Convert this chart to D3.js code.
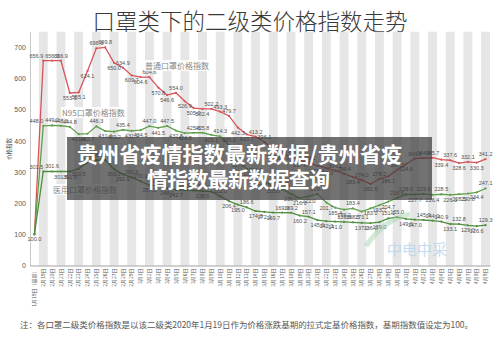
<!DOCTYPE html>
<html><head><meta charset="utf-8">
<script src="https://cdn.jsdelivr.net/npm/d3@7"></script>
<style>body{margin:0;background:#fff}svg{display:block}</style>
</head><body>
<script>
// Dates: base period, then daily observations
const dates = ["1月19日（基期）",
  "2月19日","2月20日","2月21日","2月22日","2月23日","2月24日","2月25日","2月26日","2月27日","2月28日","2月29日",
  "3月1日","3月2日","3月3日","3月4日","3月5日","3月6日","3月7日","3月8日","3月9日","3月10日",
  "3月11日","3月12日","3月13日","3月14日","3月15日","3月16日","3月17日","3月18日","3月19日","3月20日",
  "3月21日","3月22日","3月23日","3月24日","3月25日","3月26日","3月27日","3月28日","3月29日","3月30日","3月31日",
  "4月1日","4月2日","4月3日","4月4日","4月5日","4月6日","4月7日","4月8日","4月9日"];

// 普通口罩价格指数
const ordinary = [100.0,656.9,656.9,656.9,553.5,555.1,624.1,696.6,699.8,650.0,634.9,609.7,604.6,604.6,570.8,546.6,554.0,526.9,505.0,502.4,502.2,493.3,479.7,442.3,420.7,413.2,396.1,373.0,360.0,350.0,337.0,329.1,320.0,312.0,304.2,294.4,283.4,274.0,261.5,278.2,286.1,307.2,324.6,343.1,344.9,345.7,339.4,337.6,328.6,332.1,330.3,341.2];
// N95口罩价格指数
const n95 = [100.0,448.0,449.2,448.3,444.8,421.4,422.7,446.3,431.4,429.2,435.4,431.9,434.5,447.0,441.5,447.5,432.8,424.8,425.8,425.8,419.1,414.3,386.0,337.0,310.0,290.0,270.0,255.0,244.9,230.0,216.0,222.0,229.7,201.7,185.4,179.2,183.4,173.1,183.0,193.7,204.7,216.6,228.0,227.7,229.9,226.4,228.5,226.3,228.5,230.8,234.4,247.1];
// 医用口罩价格指数
const medical = [100.0,301.5,301.6,301.5,301.5,310.5,330.5,338.0,338.6,309.2,292.6,282.6,270.2,257.5,254.8,248.0,242.7,241.5,240.3,238.5,237.3,222.0,206.4,195.0,186.6,174.8,172.1,169.7,169.9,169.2,160.2,157.1,145.6,142.3,141.0,139.9,138.5,137.0,136.0,139.0,151.1,155.0,149.6,147.0,145.9,144.0,140.9,133.1,132.8,129.0,126.6,129.3];

const yTicks = [0,100,200,300,400,500,600,700];
const seriesNames = ["普通口罩价格指数","N95口罩价格指数","医用口罩价格指数"];

const W = 500, H = 338;
const svg = d3.select("body").append("svg").attr("width", W).attr("height", H)
  .style("font-family", "'Liberation Sans', Arial, sans-serif");

const x = d3.scaleBand().domain(dates).range([30, 490]);
const y = d3.scaleLinear().domain([0, 750]).range([265.5, 31.7]);
const cx = d => x(d) + x.bandwidth() / 2;

// title
svg.append("text").attr("x", 250).attr("y", 30).attr("text-anchor", "middle")
  .style("font-family", "'Noto Sans CJK SC', sans-serif").style("font-size", "22.5px")
  .style("font-weight", 300).attr("fill", "#3a3a3a").text("口罩类下的二级类价格指数走势");

// alternating column bands
svg.append("g").selectAll("rect").data(dates.filter((d, i) => i % 2 === 1)).join("rect")
  .attr("x", d => x(d)).attr("width", x.bandwidth())
  .attr("y", y(750)).attr("height", y(0) - y(750)).attr("fill", "#e6e6e6");

// y axis
const yAxis = svg.append("g").attr("transform", "translate(30,0)")
  .call(d3.axisLeft(y).tickValues(yTicks).tickSize(0).tickPadding(4).tickFormat(d3.format("d")));
yAxis.select(".domain").attr("stroke", "#c8c8c8");
yAxis.selectAll("text").attr("fill", "#595959").style("font-size", "7px");

svg.append("text").attr("transform", "translate(11,149) rotate(-90)").attr("text-anchor", "middle")
  .style("font-family", "'Noto Sans CJK SC', sans-serif").style("font-size", "5.5px").attr("fill", "#444").text("价格指数");

// x axis
const xAxis = svg.append("g").attr("transform", `translate(0,${y(0)})`)
  .call(d3.axisBottom(x).tickSize(0).tickPadding(3));
xAxis.select(".domain").attr("stroke", "#a0a0a0");
xAxis.selectAll("text").attr("fill", "#595959")
  .style("font-family", "'Noto Sans CJK SC', sans-serif").style("font-size", "5px")
  .attr("text-anchor", "end").attr("dy", "0.35em")
  .attr("transform", "rotate(-90)")
  .attr("x", -3).attr("y", 0);

// lines
const series = [
  { name: seriesNames[0], values: ordinary, color: "#d95459" },
  { name: seriesNames[1], values: n95, color: "#5fa04c" },
  { name: seriesNames[2], values: medical, color: "#4f8e3f" }
];
const line = d3.line().x((d, i) => cx(dates[i])).y(d => y(d));
series.forEach(s => {
  svg.append("path").datum(s.values).attr("d", line).attr("fill", "none")
    .attr("stroke", s.color).attr("stroke-width", 1.3);
  svg.append("g").selectAll("circle").data(s.values).join("circle")
    .attr("cx", (d, i) => cx(dates[i])).attr("cy", d => y(d)).attr("r", 1.1).attr("fill", s.color);
});

// value labels: above a point that sits over its neighbours' mean, below otherwise
series.forEach((s, k) => {
  const v = s.values;
  const g = svg.append("g").style("font-size", "5.5px").attr("fill", "#505050");
  v.forEach((d, i) => {
    if (i === 0 && k > 0) return;
    const px = cx(dates[i]), py = y(d);
    let side;
    if (i === 0) side = "below";
    else if (i === 1) side = "left";
    else if (i === v.length - 1) side = d >= v[i - 1] ? "above" : "below";
    else side = d >= (v[i - 1] + v[i + 1]) / 2 ? "above" : "below";
    const t = g.append("text").text(d.toFixed(1));
    if (side === "left") t.attr("x", px).attr("y", py - 3).attr("text-anchor", "end");
    else if (side === "above") t.attr("x", px).attr("y", py - 3).attr("text-anchor", "middle");
    else t.attr("x", px).attr("y", py + 7).attr("text-anchor", "middle");
  });
});

// series name notes
const notes = [
  { text: seriesNames[0], x: 145, y: 69 },
  { text: seriesNames[1], x: 62, y: 116 },
  { text: seriesNames[2], x: 53, y: 193 }
];
notes.forEach(n => {
  const t = svg.append("text").attr("x", n.x).attr("y", n.y)
    .style("font-family", "'Noto Sans CJK SC', sans-serif").style("font-size", "8px")
    .attr("fill", "#8a8a8a").text(n.text);
  const b = t.node().getBBox();
  svg.insert("rect", () => t.node()).attr("x", b.x - 1).attr("y", b.y).attr("width", b.width + 2)
    .attr("height", b.height).attr("fill", "#fff").attr("opacity", 0.85);
});

// watermark
svg.append("path").attr("d", "M366,246 C378,228 392,218 410,214")
  .attr("fill", "none").attr("stroke", "#9fd0a8").attr("stroke-width", 5).attr("opacity", 0.45);
svg.append("text").attr("x", 417).attr("y", 255).attr("text-anchor", "middle")
  .style("font-family", "'Noto Sans CJK SC', sans-serif").style("font-size", "15px")
  .attr("fill", "#b7d3ee").attr("opacity", 0.8).text("中电中采");

// footnote
svg.append("text").attr("x", 20).attr("y", 328).attr("textLength", 453)
  .style("font-family", "'Noto Sans CJK SC', sans-serif").style("font-size", "8.5px").attr("fill", "#595959")
  .text("注：各口罩二级类价格指数是以该二级类2020年1月19日作为价格涨跌基期的拉式定基价格指数，基期指数值设定为100。");

// headline banner
svg.append("rect").attr("x", 67).attr("y", 137).attr("width", 365).attr("height", 63)
  .attr("fill", "rgb(60,60,60)").attr("opacity", 0.72);
svg.append("text").attr("x", 77).attr("y", 162).attr("textLength", 325)
  .style("font-family", "'Noto Sans CJK SC', sans-serif").style("font-size", "21px").style("font-weight", 700)
  .attr("fill", "#fff").text("贵州省疫情指数最新数据/贵州省疫");
svg.append("text").attr("x", 147).attr("y", 187).attr("textLength", 183)
  .style("font-family", "'Noto Sans CJK SC', sans-serif").style("font-size", "21px").style("font-weight", 700)
  .attr("fill", "#fff").text("情指数最新数据查询");
</script>
</body></html>
